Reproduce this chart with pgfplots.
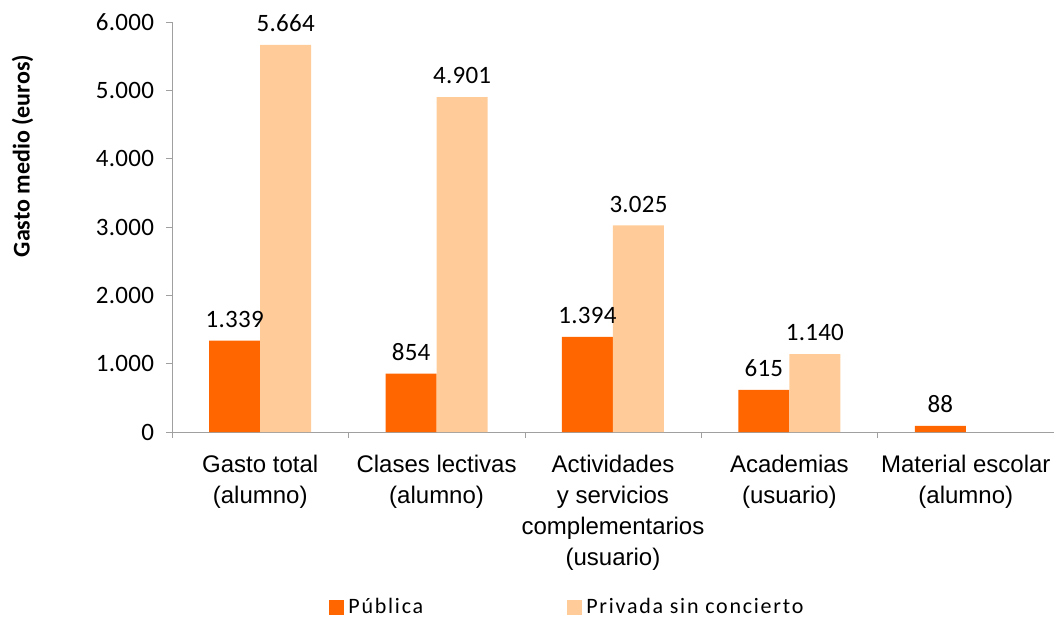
\documentclass[border=0pt]{standalone}
\usepackage{fontspec}
\setmainfont{Carlito}
\newfontfamily\arialf{Liberation Sans}
\newfontfamily\legfont[LetterSpace=8]{Carlito}
\newfontfamily\numfont[LetterSpace=1]{Carlito}
\usepackage{pgfplots}
\pgfplotsset{compat=1.18}
\definecolor{publica}{HTML}{FF6600}
\definecolor{privada}{HTML}{FFCC99}
\definecolor{axgray}{HTML}{A0A0A0}
\pgfplotsset{sqlegend/.style={legend image code/.code={\fill[##1,draw=none] (-2.5pt,-3.75pt) rectangle (5pt,3.75pt);}}}
\begin{document}
\begin{tikzpicture}
\useasboundingbox (-86pt,-93pt) rectangle (441pt,216pt);
\begin{axis}[
  scale only axis, width=441pt, height=205pt,
  xmin=-0.5, xmax=4.5, ymin=0, ymax=6000,
  axis x line*=bottom, axis y line*=left,
  axis line style={draw=axgray,-},
  every outer x axis line/.append style={-},
  every outer y axis line/.append style={-},
  tick style={draw=axgray},
  tick align=outside, major tick length=3pt,
  ytick={0,1000,2000,3000,4000,5000,6000},
  scaled y ticks=false,
  /pgf/number format/.cd, 1000 sep={.}, assume math mode=true, /pgfplots/.cd,
  yticklabel style={font=\numfont\fontsize{12.5}{14}\selectfont, text=black, xshift=-2.5pt},
  xtick={-0.5,0.5,1.5,2.5,3.5,4.5}, xticklabels={},
  extra x ticks={0,1,2,3,4},
  extra x tick labels={Gasto total\\(alumno), Clases lectivas\\(alumno), Actividades\\y servicios\\complementarios\\(usuario), Academias\\(usuario), Material escolar\\(alumno)},
  extra x tick style={major tick length=0pt, grid=none,
    xticklabel style={font=\arialf\fontsize{12}{15.5}\selectfont, align=center, text=black, yshift=-8pt}},
  ylabel={\bfseries Gasto medio (euros)},
  ylabel style={at={(axis description cs:-0.1695,0.673)}, anchor=center, font=\fontsize{12}{14}\selectfont},
  ybar=0pt, bar width=25.5pt,
  nodes near coords,
  every node near coord/.append style={font=\numfont\fontsize{12.5}{14}\selectfont, text=black, yshift=3pt},
  clip=false,
  legend columns=2,
  legend style={at={(axis description cs:0.4495,-0.427)}, anchor=center, draw=none, fill=none,
    font=\legfont\fontsize{11}{13}\selectfont,
    /tikz/every even column/.append style={column sep=70pt}},
]
\addplot[fill=publica, draw=none, sqlegend] coordinates {(0,1339) (1,854) (2,1394) (3,615) (4,88)};
\addplot[fill=privada, draw=none, sqlegend] coordinates {(0,5664) (1,4901) (2,3025) (3,1140)};
\legend{Pública, Privada sin concierto}
\end{axis}
\end{tikzpicture}
\end{document}
